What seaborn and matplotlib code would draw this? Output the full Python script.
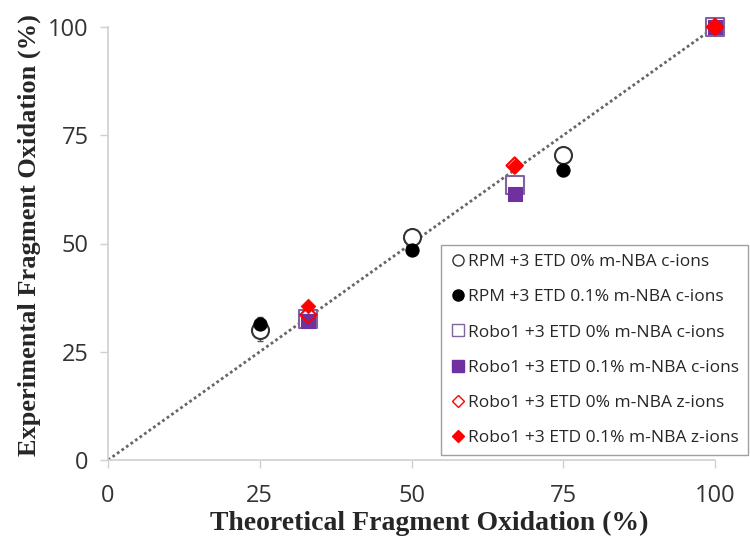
import pandas as pd
import matplotlib.pyplot as plt
import matplotlib.lines as mlines
import seaborn as sns

# data
rpm_x = [25, 50, 75, 100]
rpm_0_y = [30, 51.5, 70.5, 100]
rpm_0_err = [2.5, 1.0, 1.0, 0.5]
rpm_01_y = [31.5, 48.5, 67, 100]
rpm_01_err = [1.5, 1.0, 1.5, 0.5]

robo_x = [33, 67, 100]
robo_c0_y = [32.5, 63.5, 100]
robo_c01_y = [32, 61.5, 100]
robo_z0_y = [33.5, 68, 100]
robo_z01_y = [35.5, 68, 100]

ideal_x = [0, 100]
ideal_y = [0, 100]

ticks = [0, 25, 50, 75, 100]

labels = ['RPM +3 ETD 0% m-NBA c-ions',
          'RPM +3 ETD 0.1% m-NBA c-ions',
          'Robo1 +3 ETD 0% m-NBA c-ions',
          'Robo1 +3 ETD 0.1% m-NBA c-ions',
          'Robo1 +3 ETD 0% m-NBA z-ions',
          'Robo1 +3 ETD 0.1% m-NBA z-ions']

sns.set_style('white')

fig = plt.figure(figsize=(7.5, 5.47), dpi=100)
ax = fig.add_axes([108/750, 87/547, 607/750, 433/547])

ax.plot(ideal_x, ideal_y, linestyle=(0, (1, 1)), color='#666666', linewidth=2, zorder=1)

purple = '#7030a0'
red = '#ff0000'

# error bars
ax.errorbar(rpm_x, rpm_0_y, yerr=rpm_0_err, fmt='none', ecolor='#555555', elinewidth=1, capsize=2, zorder=2)
ax.errorbar(rpm_x, rpm_01_y, yerr=rpm_01_err, fmt='none', ecolor='#555555', elinewidth=1, capsize=2, zorder=2)

df_rpm0 = pd.DataFrame({'x': rpm_x, 'y': rpm_0_y})
df_rpm01 = pd.DataFrame({'x': rpm_x, 'y': rpm_01_y})
df_c0 = pd.DataFrame({'x': robo_x, 'y': robo_c0_y})
df_c01 = pd.DataFrame({'x': robo_x, 'y': robo_c01_y})
df_z0 = pd.DataFrame({'x': robo_x, 'y': robo_z0_y})
df_z01 = pd.DataFrame({'x': robo_x, 'y': robo_z01_y})

sns.scatterplot(data=df_rpm0, x='x', y='y', ax=ax, marker='o', s=150,
                facecolor='white', edgecolor='#333333', linewidth=1.5, zorder=3, clip_on=False)
sns.scatterplot(data=df_rpm01, x='x', y='y', ax=ax, marker='o', s=90,
                color='black', edgecolor='black', zorder=4, clip_on=False)
sns.scatterplot(data=df_c0, x='x', y='y', ax=ax, marker='s', s=150,
                facecolor='white', edgecolor='#8064a2', linewidth=1.5, zorder=3, clip_on=False)
sns.scatterplot(data=df_c01, x='x', y='y', ax=ax, marker='s', s=90,
                color=purple, edgecolor=purple, zorder=4, clip_on=False)
sns.scatterplot(data=df_z0, x='x', y='y', ax=ax, marker='D', s=70,
                facecolor='none', edgecolor=red, linewidth=1.5, zorder=5, clip_on=False)
sns.scatterplot(data=df_z01, x='x', y='y', ax=ax, marker='D', s=55,
                color=red, edgecolor=red, zorder=6, clip_on=False)

ax.set_xlim(0, 100)
ax.set_ylim(0, 100)
ax.set_xticks(ticks)
ax.set_yticks(ticks)
ax.set_xticklabels([str(t) for t in ticks], fontsize=17, family='Open Sans', color='#333333')
ax.set_yticklabels([str(t) for t in ticks], fontsize=17, family='Open Sans', color='#333333')
ax.tick_params(axis='x', length=6, width=1, color='#d0d0d0', direction='out', pad=11, bottom=True)
ax.tick_params(axis='y', length=6, width=1, color='#d0d0d0', direction='out', pad=8, left=True)

for s in ['top', 'right']:
    ax.spines[s].set_visible(False)
for s in ['left', 'bottom']:
    ax.spines[s].set_color('#d0d0d0')
    ax.spines[s].set_linewidth(1.2)

ax.set_xlabel('Theoretical Fragment Oxidation (%)', fontsize=20, fontweight='bold',
              family='Liberation Serif')
ax.set_ylabel('Experimental Fragment Oxidation (%)', fontsize=19, fontweight='bold',
              family='Liberation Serif')
ax.xaxis.set_label_coords(0.53, -0.118)
ax.yaxis.set_label_coords(-0.11, 0.52)

handles = [
    mlines.Line2D([], [], linestyle='none', marker='o', markersize=8, markerfacecolor='white', markeredgecolor='#333333'),
    mlines.Line2D([], [], linestyle='none', marker='o', markersize=8, color='black'),
    mlines.Line2D([], [], linestyle='none', marker='s', markersize=8, markerfacecolor='white', markeredgecolor='#8064a2'),
    mlines.Line2D([], [], linestyle='none', marker='s', markersize=8, color=purple),
    mlines.Line2D([], [], linestyle='none', marker='D', markersize=6.5, markerfacecolor='white', markeredgecolor=red),
    mlines.Line2D([], [], linestyle='none', marker='D', markersize=6.5, color=red),
]
leg = ax.legend(handles=handles, labels=labels, loc='lower right',
                bbox_to_anchor=(748/750, 92/547), bbox_transform=fig.transFigure,
                borderaxespad=0,
                frameon=True, fancybox=False, edgecolor='#a0a0a0', framealpha=1,
                prop={'family': 'Open Sans', 'size': 12.5}, handletextpad=0.1,
                handlelength=1.0, labelspacing=1.1, borderpad=0.5)
leg.get_frame().set_linewidth(1)

fig.savefig('out.png', dpi=100)
